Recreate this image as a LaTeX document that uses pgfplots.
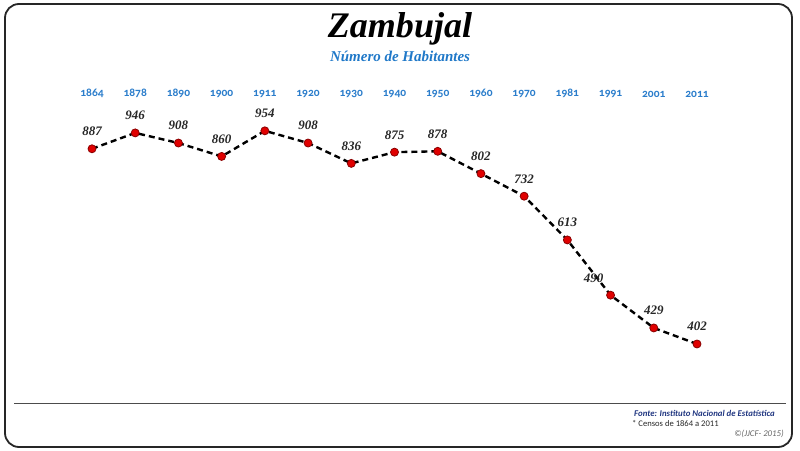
\documentclass[border=0pt]{standalone}
\usepackage{pgfplots}
\pgfplotsset{compat=1.18}
\usepackage{fontspec}
\setmainfont{Liberation Serif}
\newfontfamily\carlito[Numbers=OldStyle]{Carlito}
\newfontfamily\carlitolin{Carlito}
\definecolor{yearblue}{HTML}{2B7DCB}
\definecolor{subblue}{HTML}{1F78C8}
\definecolor{navy}{HTML}{1F3580}
\definecolor{ptred}{HTML}{E00000}
\definecolor{ptedge}{HTML}{8A0000}
\begin{document}
\begin{tikzpicture}[x=1pt,y=1pt]
\path[use as bounding box] (0,0) rectangle (800,450);
\draw[line width=1.8pt,rounded corners=14pt,draw=black!85] (5,3) rectangle (792,446);
\node[font=\fontsize{36}{40}\selectfont\bfseries\itshape] at (400,421) {Zambujal};
\node[font=\fontsize{15}{18}\selectfont\bfseries\itshape,text=subblue] at (400,394) {Número de Habitantes};
\begin{axis}[
  at={(92pt,92.1pt)}, anchor=south west,
  scale only axis, width=605pt, height=256.5pt,
  xmin=0, xmax=14,
  ymode=log, ymin=380, ymax=1075,
  axis line style={draw=none},
  major tick length=0pt,
  xtick={0,...,14},
  xticklabels={1864,1878,1890,1900,1911,1920,1930,1940,1950,1960,1970,1981,1991,2001,2011},
  xticklabel pos=upper,
  xticklabel style={font=\carlito\fontsize{11.5}{13}\selectfont\bfseries, text=yearblue},
  ytick=\empty,
  clip=false,
  nodes near coords,
  point meta=explicit symbolic,
  visualization depends on={\thisrow{dx} \as \dx},
  nodes near coords style={anchor=south, inner sep=0pt, yshift=12.6pt, xshift=\dx pt,
     font=\fontsize{13}{15}\selectfont\bfseries\itshape, text=black!85},
]
\addplot[black, line width=2.4pt, dash pattern=on 6pt off 4pt,
  mark=*, mark size=4pt, mark options={solid, fill=ptred, draw=ptedge, line width=0.8pt}]
  table[x=x, y=y, meta=lab] {
x y lab dx
0 887 887 0
1 946 946 0
2 908 908 0
3 860 860 0
4 954 954 0
5 908 908 0
6 836 836 0
7 875 875 0
8 878 878 0
9 802 802 0
10 732 732 0
11 613 613 0
12 490 490 -17
13 429 429 0
14 402 402 0
};
\end{axis}
\draw[draw=black!70, line width=0.9pt] (14,47) -- (786,47);
\node[anchor=east, inner sep=0pt, font=\carlitolin\fontsize{8.8}{10}\selectfont\bfseries\itshape, text=navy] at (775,37) {Fonte: Instituto Nacional de Estatística};
\node[anchor=west, inner sep=0pt, font=\carlitolin\fontsize{8.6}{10}\selectfont, text=black!85] at (632,27) {* Censos de 1864 a 2011};
\node[anchor=east, inner sep=0pt, font=\carlitolin\fontsize{8.8}{10}\selectfont\itshape, text=black!60] at (784,16) {©(JJCF- 2015)};
\end{tikzpicture}
\end{document}
